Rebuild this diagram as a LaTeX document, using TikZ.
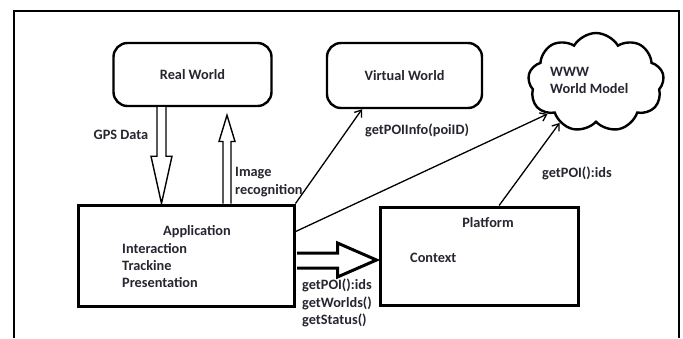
\documentclass[tikz,border=0pt]{standalone}
\usepackage{fontspec}
\setmainfont{Carlito}
\usetikzlibrary{arrows.meta,calc,shapes.symbols}
\definecolor{ink}{RGB}{38,38,48}
\begin{document}
\begin{tikzpicture}[x=1pt,y=-1pt,
  txt/.style={font=\fontsize{14.3}{17.5}\selectfont\bfseries, text=ink, inner sep=0pt},
  roundbox/.style={draw, line width=2.4pt, rounded corners=14pt, inner sep=0pt},
  squarebox/.style={draw, line width=3pt, inner sep=0pt},
  hollow/.style={draw, line width=1.4pt, line join=miter, fill=white},
  link/.style={draw, line width=1.3pt, -{Straight Barb[length=6pt,width=9pt,line width=1.3pt]}}]
\useasboundingbox (0,0) rectangle (683,338);
\fill[white] (0,0) rectangle (683,338);
% open frame round the diagram
\draw[line width=2pt] (14,338) -- (14,11) -- (679,11) -- (679,338);

% boxes
\node[roundbox, minimum width=158pt, minimum height=63pt] (rw) at (192.5,74.5) {};
\node[txt] at (rw.center) {Real World};
\node[roundbox, minimum width=155pt, minimum height=65pt] (vw) at (404.5,75.5) {};
\node[txt] at (vw.center) {Virtual World};
\node[cloud, cloud puffs=9, cloud puff arc=120, aspect=1.35, draw, line width=2.4pt,
      minimum width=136pt, minimum height=99pt, inner sep=0pt] (www) at (596,82.5) {};
\node[txt, align=left, anchor=west] at (550,80.5) {WWW\\World Model};

\node[squarebox, minimum width=216pt, minimum height=101pt] (app) at (186,255.5) {};
\node[txt] (apptitle) at (197,232) {Application};
\node[txt, anchor=west] (appl1) at (122,249) {Interaction};
\node[txt, anchor=west] (appl2) at (122,266) {Trackine};
\node[txt, anchor=west] (appl3) at (122,283) {Presentation};

\node[squarebox, minimum width=198pt, minimum height=98pt] (plat) at (479,256) {};
\node[txt] (plattitle) at (488,223) {Platform};
\node[txt, anchor=west] (ctx) at (410,258) {Context};

% hollow block arrows between Real World and Application
\path[hollow] ($(rw.south)+(-35.5,0)$) -- ($(rw.south)+(-35.5,49)$) -- ($(rw.south)+(-41.5,49)$)
  -- ($(app.north)+(-24.5,0)$) -- ($(rw.south)+(-20.5,49)$) -- ($(rw.south)+(-26.5,49)$)
  -- ($(rw.south)+(-26.5,0)$);
\path[hollow] ($(app.north)+(37,0)$) -- ($(app.north)+(37,-62)$) -- ($(app.north)+(33,-62)$)
  -- ($(rw.south)+(34.5,8)$) -- ($(app.north)+(49,-62)$) -- ($(app.north)+(45,-62)$)
  -- ($(app.north)+(45,0)$);
\node[txt] (gps) at (121,135) {GPS Data};
\node[txt, align=left, anchor=west] (imgrec) at (235,182) {Image\\recognition};

% fat arrow from Application to Platform
\path[hollow, line width=3pt] ($(app.east)+(1.5,-2.5)$) -- ($(app.east)+(42,-2.5)$) -- ($(app.east)+(42,-12.5)$)
  -- ($(plat.west)+(-2,4)$) -- ($(app.east)+(42,21.5)$) -- ($(app.east)+(42,12.5)$)
  -- ($(app.east)+(1.5,12.5)$);
\node[txt, align=left, anchor=north west] (calls) at (302,279) {getPOI():ids\\getWorlds()\\getStatus()};

% plain arrows
\draw[link] (app.north east) -- ($(vw.south west)!0.23!(vw.south east)$);
\node[txt, anchor=west] (poiinfo) at (365,130) {getPOIInfo(poiID)};
\draw[link] ($(app.north east)!0.27!(app.south east)$) -- (www.213);
\draw[link] ($(plat.north west)!0.6!(plat.north east)$) -- (www.228);
\node[txt, anchor=west] (poiids) at (542,173) {getPOI():ids};
\end{tikzpicture}
\end{document}
